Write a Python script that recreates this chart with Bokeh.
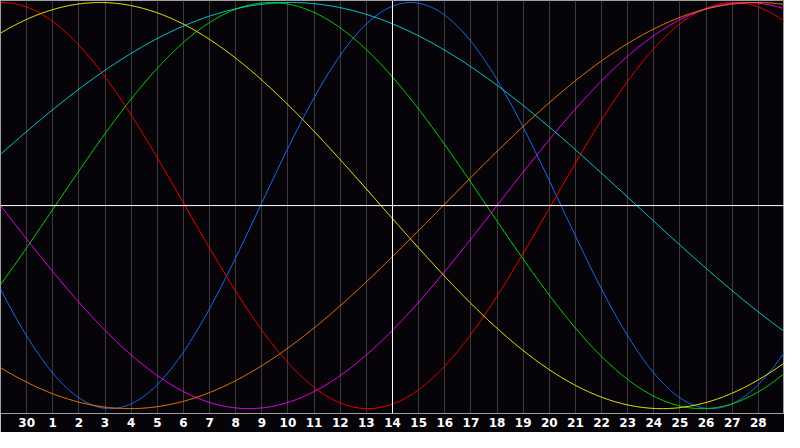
import numpy as np
from bokeh.plotting import figure
from bokeh.models import Span, FixedTicker
from bokeh.embed import file_html
from bokeh.resources import INLINE

# Biorhythm cycles: length in days and the chart position (in day columns) of one peak
cycle_names = ["Physical", "Emotional", "Intellectual", "Intuitive", "Awareness", "Aesthetic", "Spiritual"]
cycle_days = [23, 28, 33, 38, 43, 48, 53]
peak_at = [15.7, 0.06, 10.35, 28.5, 3.81, 28.94, 11.1]
cycle_colors = ["#1e6eff", "#ff0000", "#00e600", "#ff00ff", "#ffff00", "#ff8000", "#00e0e0"]

# Day axis
day_ticks = list(range(1, 30))
day_labels = ["30"] + [str(d) for d in range(1, 29)]
today_pos = 15
n_columns = 30

BG = "#060409"

p = figure(width=784, height=432, x_range=(0, n_columns), y_range=(-1.024, 1.01),
           output_backend="svg", toolbar_location=None, min_border=0,
           y_axis_location=None)
p.background_fill_color = BG
p.border_fill_color = BG
p.outline_line_color = "#a0a0a0"
p.min_border_bottom = 19

p.xgrid.ticker = FixedTicker(ticks=day_ticks)
p.xgrid.grid_line_color = "#3a3a3a"
p.ygrid.visible = False

ax = p.xaxis[0]
ax.ticker = FixedTicker(ticks=day_ticks)
ax.major_label_overrides = {t: l for t, l in zip(day_ticks, day_labels)}
ax.major_label_text_color = "white"
ax.major_label_text_font = "DejaVu Sans"
ax.major_label_text_font_style = "bold"
ax.major_label_text_font_size = "12px"
ax.major_label_standoff = 4
ax.major_tick_out = 0
ax.major_tick_in = 0
ax.minor_tick_out = 0
ax.minor_tick_in = 0
ax.axis_line_color = "#a0a0a0"

p.add_layout(Span(location=0, dimension="width", line_color="white", line_width=1))
p.add_layout(Span(location=today_pos, dimension="height", line_color="white", line_width=1))

xs = np.linspace(0, n_columns, 901)
for name, per, pk, col in zip(cycle_names, cycle_days, peak_at, cycle_colors):
    ys = np.cos(2 * np.pi * (xs - pk) / per)
    p.line(xs, ys, line_color=col, line_width=1)

open("out.html", "w").write(file_html(p, INLINE))
